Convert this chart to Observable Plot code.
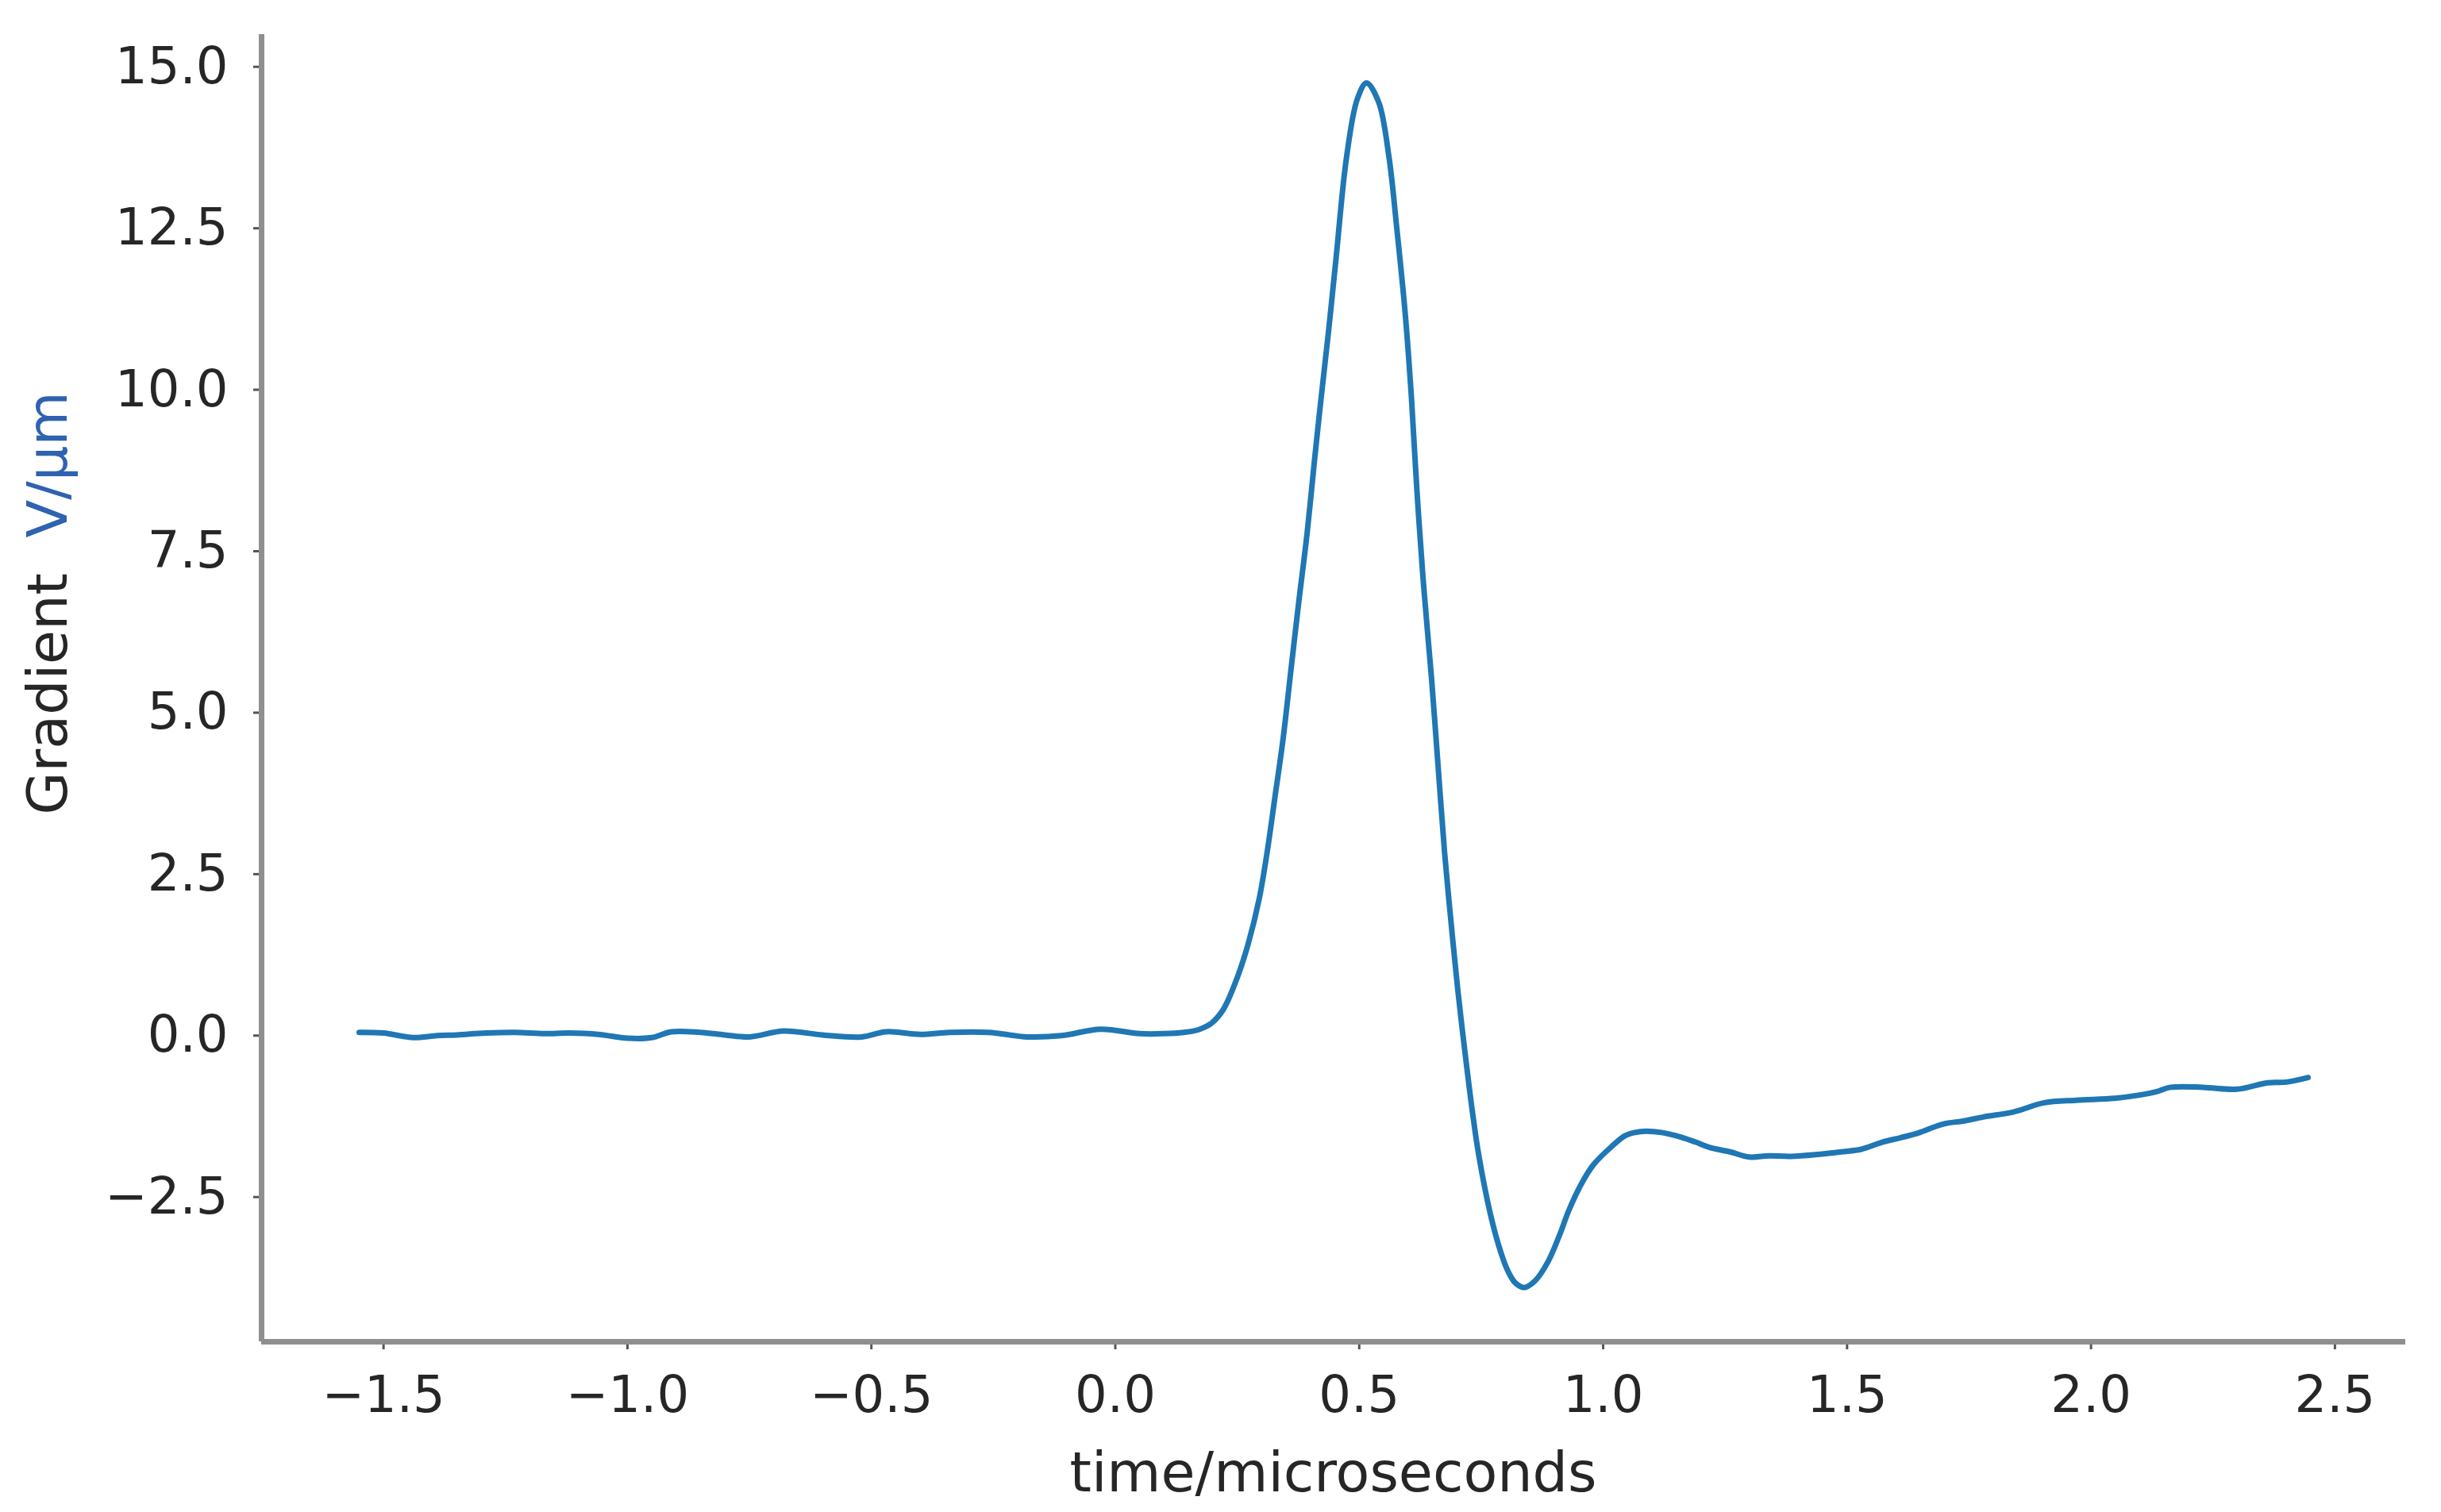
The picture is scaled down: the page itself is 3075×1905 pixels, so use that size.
<!DOCTYPE html>
<html>
<head>
<meta charset="utf-8">
<script src="https://cdn.jsdelivr.net/npm/d3@7"></script>
<script src="https://cdn.jsdelivr.net/npm/@observablehq/plot@0.6"></script>
<style>
  html, body { margin: 0; padding: 0; background: #fff; }
  #chart { width: 3075px; height: 1905px; }
</style>
</head>
<body>
<div id="chart"></div>
<script>
// ---- data ----
const time = [
  -1.55, -1.50, -1.44, -1.39, -1.35, -1.29, -1.23, -1.17, -1.12, -1.06,
  -1.00, -0.95, -0.91, -0.85, -0.80, -0.75, -0.68, -0.60, -0.52, -0.47,
  -0.40, -0.34, -0.26, -0.18, -0.11, -0.03, 0.05, 0.10, 0.14, 0.17,
  0.195, 0.221, 0.251, 0.272, 0.295, 0.311, 0.327, 0.344, 0.360, 0.376,
  0.393, 0.409, 0.422, 0.437, 0.452, 0.474, 0.496, 0.515, 0.54, 0.561,
  0.577, 0.594, 0.607, 0.618, 0.631, 0.648, 0.661, 0.675, 0.688, 0.702,
  0.716, 0.732, 0.745, 0.77, 0.79, 0.805, 0.82, 0.838, 0.86, 0.887,
  0.91, 0.93, 0.955, 0.98, 1.017, 1.045, 1.065, 1.087, 1.12, 1.159,
  1.19, 1.218, 1.26, 1.30, 1.34, 1.384, 1.44, 1.488, 1.529, 1.572,
  1.61, 1.645, 1.696, 1.74, 1.779, 1.842, 1.904, 1.97, 2.049, 2.10,
  2.133, 2.163, 2.23, 2.299, 2.362, 2.40, 2.445
];
const gradient = [
  0.05, 0.04, -0.03, 0.00, 0.01, 0.04, 0.05, 0.03, 0.04, 0.02,
  -0.04, -0.03, 0.06, 0.05, 0.01, -0.02, 0.07, 0.01, -0.02, 0.06,
  0.02, 0.05, 0.05, -0.02, 0.00, 0.10, 0.03, 0.03, 0.05, 0.09,
  0.18, 0.40, 0.92, 1.41, 2.12, 2.83, 3.68, 4.60, 5.66, 6.71,
  7.77, 8.96, 9.88, 10.90, 12.00, 13.60, 14.50, 14.75, 14.45, 13.60,
  12.50, 11.20, 9.88, 8.47, 7.06, 5.55, 4.24, 2.83, 1.77, 0.71,
  -0.21, -1.18, -1.85, -2.80, -3.35, -3.65, -3.83, -3.90, -3.80, -3.50,
  -3.10, -2.70, -2.30, -2.00, -1.72, -1.55, -1.50, -1.48, -1.50, -1.57,
  -1.65, -1.73, -1.80, -1.88, -1.86, -1.87, -1.84, -1.80, -1.76, -1.65,
  -1.58, -1.51, -1.37, -1.32, -1.26, -1.18, -1.04, -1.00, -0.97, -0.92,
  -0.87, -0.80, -0.80, -0.83, -0.73, -0.72, -0.65
];
const xTicks = [-1.5, -1.0, -0.5, 0.0, 0.5, 1.0, 1.5, 2.0, 2.5];
const yTicks = [-2.5, 0.0, 2.5, 5.0, 7.5, 10.0, 12.5, 15.0];
const xDomain = [-1.75, 2.645];
const yDomain = [-4.74, 15.5];
const xLabel = "time/microseconds";
const yLabelA = "Gradient  ";
const yLabelB = "V/\u03bcm";

const rows = time.map((t, i) => ({t, g: gradient[i]}));
const fmt = d3.format(".1f");

const W = 3075, H = 1905;
const mL = 329, mR = 45, mT = 43, mB = 215;
const axisColor = "#8f8f8f";
const tickColor = "#555555";
const textColor = "#262626";

const chart = Plot.plot({
  width: W,
  height: H,
  marginLeft: mL,
  marginRight: mR,
  marginTop: mT,
  marginBottom: mB,
  style: {fontFamily: "DejaVu Sans", background: "#ffffff", overflow: "visible"},
  x: {domain: xDomain},
  y: {domain: yDomain},
  marks: [
    Plot.axisX(xTicks, {
      tickSize: 10, tickPadding: 33, tickFormat: fmt, fontSize: 64,
      stroke: tickColor, strokeWidth: 3, fill: textColor, label: null
    }),
    Plot.axisY(yTicks, {
      tickSize: 10, tickPadding: 32, tickFormat: fmt, fontSize: 64,
      stroke: tickColor, strokeWidth: 3, fill: textColor, label: null
    }),
    Plot.ruleX([xDomain[0]], {stroke: axisColor, strokeWidth: 7}),
    Plot.ruleY([yDomain[0]], {stroke: axisColor, strokeWidth: 7}),
    Plot.line(rows, {x: "t", y: "g", stroke: "#1f77b4", strokeWidth: 7, curve: "catmull-rom"})
  ]
});

// axis labels as real text
const svg = d3.select(chart);
svg.append("text")
  .attr("x", (mL + (W - mR)) / 2)
  .attr("y", 1879)
  .attr("text-anchor", "middle")
  .attr("font-family", "DejaVu Sans")
  .attr("font-size", 70)
  .attr("fill", textColor)
  .text(xLabel);

const yl = svg.append("text")
  .attr("transform", "translate(84,760) rotate(-90)")
  .attr("text-anchor", "middle")
  .attr("font-family", "DejaVu Sans")
  .attr("font-size", 70)
  .attr("fill", textColor)
  .attr("xml:space", "preserve")
  .style("white-space", "pre");
yl.append("tspan").text(yLabelA);
yl.append("tspan").attr("fill", "#2f62b0").text(yLabelB);

document.getElementById("chart").appendChild(chart);
</script>
</body>
</html>
